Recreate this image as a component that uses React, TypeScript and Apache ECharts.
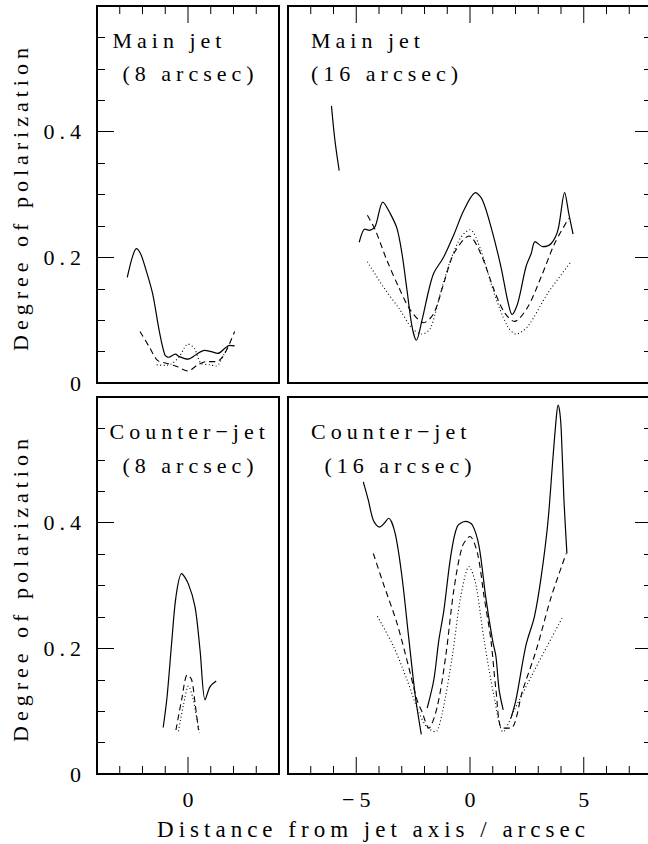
import React, { useEffect, useRef } from "react";
import * as echarts from "echarts";

// ---- data (x: arcsec from jet axis, y: degree of polarization) ----
const tlSolid = [[-2.67,0.168],[-2.45,0.2],[-2.27,0.214],[-2.1,0.207],[-1.93,0.19],[-1.56,0.143],[-1.27,0.084],[-1.02,0.045],[-0.85,0.041],[-0.56,0.046],[-0.38,0.042],[-0.01,0.038],[0.35,0.045],[0.72,0.052],[1.02,0.05],[1.31,0.047],[1.61,0.055],[1.83,0.06],[2.05,0.059]];
const tlDashed = [[-2.11,0.082],[-1.71,0.058],[-1.34,0.036],[-0.9,0.031],[-0.46,0.026],[0,0.019],[0.43,0.029],[0.8,0.034],[1.24,0.034],[1.53,0.042],[1.83,0.063],[2.05,0.082]];
const tlDotted = [[-1.38,0.029],[-1.0,0.028],[-0.7,0.031],[-0.38,0.042],[0,0.062],[0.28,0.055],[0.58,0.031],[0.94,0.029],[1.24,0.027],[1.6,0.047],[1.85,0.062]];

const trSolidA = [[-6.09,0.441],[-5.94,0.387],[-5.75,0.338]];
const trSolidB = [[-4.87,0.224],[-4.62,0.245],[-4.42,0.243],[-4.17,0.249],[-3.83,0.288],[-3.51,0.27],[-3.21,0.246],[-2.99,0.206],[-2.77,0.148],[-2.55,0.09],[-2.36,0.068],[-2.11,0.1],[-1.81,0.148],[-1.59,0.175],[-1.15,0.201],[-0.71,0.236],[-0.27,0.275],[0.25,0.303],[0.55,0.291],[0.92,0.249],[1.36,0.185],[1.65,0.132],[1.85,0.109],[2.1,0.127],[2.46,0.185],[2.69,0.206],[2.86,0.225],[3.2,0.217],[3.57,0.222],[3.87,0.244],[4.16,0.303],[4.34,0.27],[4.53,0.237]];
const trDashed = [[-4.51,0.267],[-4.17,0.244],[-3.66,0.196],[-3.14,0.153],[-2.62,0.116],[-2.03,0.096],[-1.59,0.111],[-1.15,0.159],[-0.71,0.206],[-0.04,0.234],[0.47,0.206],[1.06,0.148],[1.5,0.113],[1.95,0.098],[2.54,0.121],[3.13,0.169],[3.72,0.222],[4.34,0.262]];
const trDotted = [[-4.51,0.193],[-3.81,0.153],[-3.07,0.116],[-2.55,0.087],[-2.11,0.078],[-1.74,0.087],[-1.3,0.143],[-0.85,0.196],[-0.4,0.232],[0,0.244],[0.47,0.212],[1.06,0.143],[1.65,0.09],[2.02,0.078],[2.54,0.09],[3.42,0.143],[4.42,0.192]];

const blSolid = [[-1.09,0.074],[-0.92,0.123],[-0.72,0.208],[-0.53,0.282],[-0.28,0.319],[0.01,0.303],[0.31,0.266],[0.53,0.197],[0.75,0.118],[0.97,0.139],[1.24,0.148]];
const blDashed = [[-0.53,0.07],[-0.28,0.118],[-0.03,0.158],[0.16,0.15],[0.31,0.113],[0.46,0.07]];
const blDotted = [[-0.42,0.068],[-0.2,0.11],[0.02,0.14],[0.22,0.12],[0.5,0.065]];

const brSolidA = [[-4.69,0.465],[-4.47,0.436],[-4.25,0.404],[-3.98,0.393],[-3.77,0.399],[-3.58,0.407],[-3.29,0.383],[-2.99,0.314],[-2.7,0.219],[-2.4,0.123],[-2.14,0.063]];
const brSolidB = [[-1.88,0.105],[-1.59,0.15],[-1.37,0.213],[-1.15,0.26],[-0.85,0.346],[-0.56,0.394],[-0.19,0.402],[0.11,0.396],[0.4,0.362],[0.69,0.282],[0.99,0.213],[1.14,0.187],[1.28,0.134],[1.46,0.102]];
const brSolidC = [[1.8,0.089],[2.02,0.118],[2.46,0.205],[2.83,0.25],[3.13,0.314],[3.42,0.399],[3.65,0.505],[3.8,0.57],[3.87,0.587],[3.95,0.575],[4.01,0.548],[4.13,0.436],[4.26,0.351]];
const brDashed = [[-4.25,0.351],[-3.81,0.303],[-3.21,0.24],[-2.7,0.171],[-2.33,0.118],[-2.11,0.099],[-1.81,0.073],[-1.44,0.107],[-1.07,0.187],[-0.71,0.293],[-0.34,0.362],[0,0.378],[0.33,0.351],[0.62,0.282],[0.92,0.213],[1.14,0.134],[1.4,0.073],[1.8,0.073],[2.32,0.134],[2.91,0.197],[3.57,0.282],[4.23,0.351]];
const brDotted = [[-4.07,0.251],[-3.36,0.203],[-2.77,0.15],[-2.26,0.099],[-1.9,0.075],[-1.52,0.067],[-1.22,0.097],[-0.78,0.187],[-0.41,0.282],[-0.04,0.33],[0.25,0.303],[0.62,0.213],[1.06,0.123],[1.46,0.067],[1.95,0.102],[2.83,0.165],[4.09,0.251]];

// x tick positions (arcsec)
const narrowMajorTicks = [0];
const narrowMinorTicks = [-3, -2, -1, 1, 2, 3];
const wideMajorTicks = [-5, 0, 5];
const wideMinorTicks = [-7, -6, -4, -3, -2, -1, 1, 2, 3, 4, 6, 7];

const panelTitles = [
  ["Main jet", "(8 arcsec)"],
  ["Main jet", "(16 arcsec)"],
  ["Counter\u2212jet", "(8 arcsec)"],
  ["Counter\u2212jet", "(16 arcsec)"],
];
const yTitle = "Degree of polarization";
const xTitle = "Distance from jet axis / arcsec";

const FONT = '"Liberation Serif", "DejaVu Serif", serif';
const FS = 22;
const LS = 5; // letter spacing applied through CSS on the container
const Y_MAX = 0.6;
const MAJOR_LEN = 17;
const MINOR_LEN = 8;

function fmtX(v: number) {
  return v < 0 ? "\u2212" + Math.abs(v) : String(v);
}

function mkY(gridIndex: number, position: string, showLabels: boolean) {
  return {
    type: "value", gridIndex, position, min: 0, max: Y_MAX, interval: 0.2,
    axisLine: { show: false, onZero: false }, splitLine: { show: false },
    axisTick: { show: true, inside: true, length: MAJOR_LEN, lineStyle: { color: "#000", width: 1 } },
    minorTick: { show: true, splitNumber: 4, length: MINOR_LEN, lineStyle: { color: "#000", width: 1 } },
    minorSplitLine: { show: false },
    axisLabel: {
      show: showLabels, margin: 16 - LS, color: "#000", fontFamily: FONT, fontSize: FS,
      showMaxLabel: false,
      formatter: (v: number) => (v > 0.59 ? "" : v === 0 ? "0" : v.toFixed(1)),
    },
  };
}

function mkX(gridIndex: number, position: string, min: number, max: number, majors: number[], showLabels: boolean) {
  return {
    type: "value", gridIndex, position, min, max,
    axisLine: { show: false, onZero: false }, splitLine: { show: false },
    axisTick: { show: false },
    axisLabel: {
      show: showLabels, customValues: majors, margin: 14, color: "#000",
      fontFamily: FONT, fontSize: FS, padding: [0, 0, 0, LS], formatter: (v: number) => fmtX(v),
    },
  };
}

function line(data: number[][], idx: number, kind: "solid" | "dashed" | "dotted") {
  const type = kind === "solid" ? "solid" : kind === "dashed" ? [6, 4] : [1, 2.5];
  return {
    type: "line", xAxisIndex: idx, yAxisIndex: idx, data,
    showSymbol: false, symbol: "none", smooth: 0.3, silent: true,
    lineStyle: { color: "#000", width: kind === "solid" ? 1.2 : 1.1, type },
  };
}

export default function App() {
  const ref = useRef<HTMLDivElement>(null);
  useEffect(() => {
    if (!ref.current) return;
    document.documentElement.style.overflow = "hidden";
    document.body.style.overflow = "hidden";
    const chart = echarts.init(ref.current, null, { renderer: "svg" });
    const gb = { show: true, borderColor: "#000", borderWidth: 2 };
    const texts: any[] = [];
    const titlePos = [
      [[112.5, 40], [122.5, 73]],
      [[311, 40], [311, 73]],
      [[109.5, 431], [122.5, 465]],
      [[311, 431], [324.5, 465]],
    ];
    panelTitles.forEach((lines, i) => {
      lines.forEach((t, j) => {
        texts.push({
          type: "text", x: titlePos[i][j][0], y: titlePos[i][j][1], silent: true,
          style: { text: t, fill: "#000", font: `${FS}px ${FONT}`, textAlign: "left", textVerticalAlign: "middle" },
        });
      });
    });
    texts.push(
      {
        type: "text", x: 20, y: 197, rotation: Math.PI / 2, silent: true,
        style: { text: yTitle, fill: "#000", font: `${FS}px ${FONT}`, textAlign: "center", textVerticalAlign: "middle" },
      },
      {
        type: "text", x: 20, y: 588, rotation: Math.PI / 2, silent: true,
        style: { text: yTitle, fill: "#000", font: `${FS}px ${FONT}`, textAlign: "center", textVerticalAlign: "middle" },
      },
      {
        type: "text", x: 371 + LS / 2, y: 829, silent: true,
        style: { text: xTitle, fill: "#000", font: `23px ${FONT}`, textAlign: "center", textVerticalAlign: "middle" },
      }
    );
    const option: any = {
      animation: false,
      grid: [
        { ...gb, left: 97, top: 6, width: 182, height: 377 },
        { ...gb, left: 288, top: 6, width: 364, height: 377 },
        { ...gb, left: 97, top: 397, width: 182, height: 377 },
        { ...gb, left: 288, top: 397, width: 364, height: 377 },
      ],
      xAxis: [
        mkX(0, "top", -4, 4, narrowMajorTicks, false),
        mkX(1, "top", -8, 8, wideMajorTicks, false),
        mkX(2, "bottom", -4, 4, narrowMajorTicks, true),
        mkX(3, "bottom", -8, 8, wideMajorTicks, true),
      ],
      yAxis: [
        mkY(0, "left", true),
        mkY(1, "right", false),
        mkY(2, "left", true),
        mkY(3, "right", false),
      ],
      series: [
        line(tlSolid, 0, "solid"),
        line(tlDashed, 0, "dashed"),
        line(tlDotted, 0, "dotted"),
        line(trSolidA, 1, "solid"),
        line(trSolidB, 1, "solid"),
        line(trDashed, 1, "dashed"),
        line(trDotted, 1, "dotted"),
        line(blSolid, 2, "solid"),
        line(blDashed, 2, "dashed"),
        line(blDotted, 2, "dotted"),
        line(brSolidA, 3, "solid"),
        line(brSolidB, 3, "solid"),
        line(brSolidC, 3, "solid"),
        line(brDashed, 3, "dashed"),
        line(brDotted, 3, "dotted"),
      ],
      graphic: texts,
    };
    chart.setOption(option);

    // x-axis ticks placed through each axis' scale (convertToPixel)
    try {
      const tickEls: any[] = [];
      const panels = [
        { idx: 0, majors: narrowMajorTicks, minors: narrowMinorTicks, top: true },
        { idx: 1, majors: wideMajorTicks, minors: wideMinorTicks, top: true },
        { idx: 2, majors: narrowMajorTicks, minors: narrowMinorTicks, top: false },
        { idx: 3, majors: wideMajorTicks, minors: wideMinorTicks, top: false },
      ];
      panels.forEach((p) => {
        const edge = p.top ? Y_MAX : 0;
        const dir = p.top ? 1 : -1;
        const add = (v: number, len: number) => {
          const pt = chart.convertToPixel({ xAxisIndex: p.idx, yAxisIndex: p.idx } as any, [v, edge]) as any;
          if (!pt || !isFinite(pt[0]) || !isFinite(pt[1])) return;
          tickEls.push({
            type: "line", silent: true, z: 50,
            shape: { x1: pt[0], y1: pt[1], x2: pt[0], y2: pt[1] + dir * len },
            style: { stroke: "#000", lineWidth: 1 },
          });
        };
        p.majors.forEach((v) => add(v, MAJOR_LEN));
        p.minors.forEach((v) => add(v, MINOR_LEN));
      });
      if (tickEls.length) chart.setOption({ graphic: [...texts, ...tickEls] } as any);
    } catch (e) {
      // keep the chart as drawn
    }
    return () => chart.dispose();
  }, []);
  return (
    <div
      ref={ref}
      style={{ position: "absolute", left: 0, top: 0, width: 660, height: 844, background: "#fff", letterSpacing: `${LS}px` }}
    />
  );
}
